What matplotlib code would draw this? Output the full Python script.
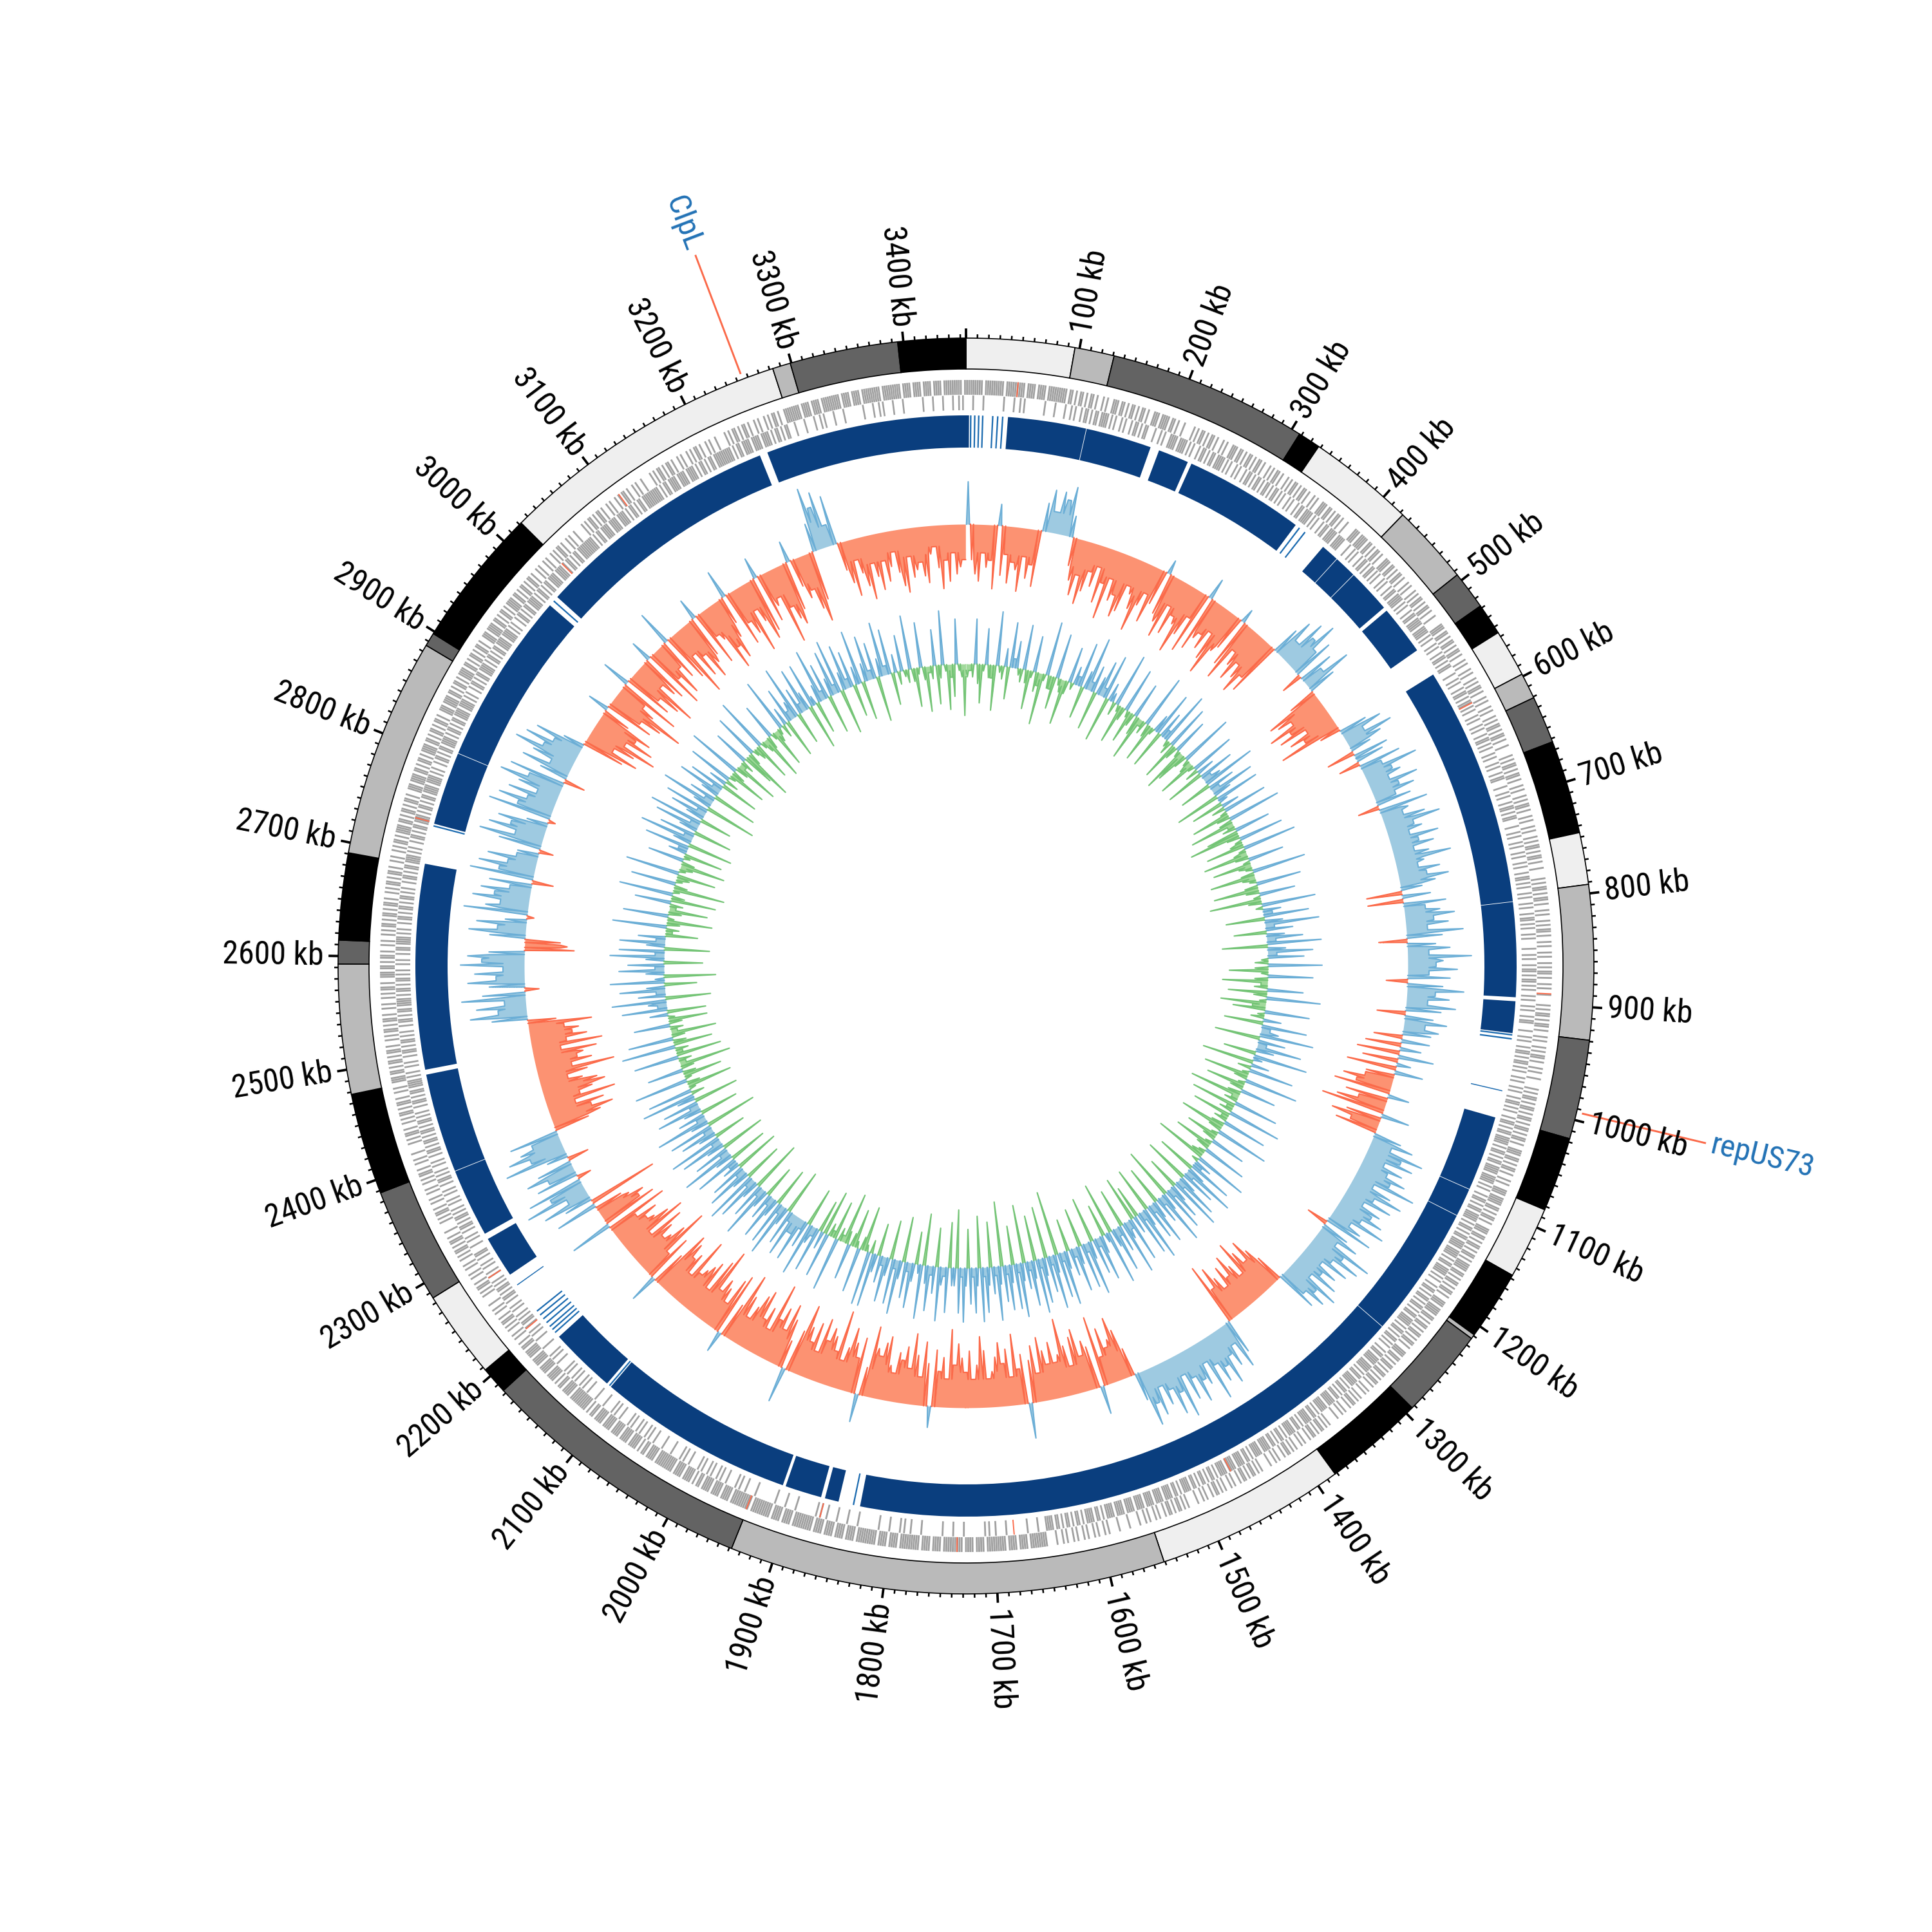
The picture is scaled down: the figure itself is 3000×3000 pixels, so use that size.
import numpy as np
import matplotlib

matplotlib.use("Agg")

from matplotlib import font_manager  # noqa: E402
from matplotlib import pyplot as plt  # noqa: E402

GENOME_KB = 3455

# outer ideogram ring: (start kb, end kb, shade key)
KARYO_BLOCKS = [
    (0, 96, "w"), (96, 131, "l"), (131, 308, "d"), (308, 328, "k"),
    (328, 423, "w"), (423, 494, "l"), (494, 528, "d"), (528, 556, "k"),
    (556, 598, "w"), (598, 621, "l"), (621, 663, "d"), (663, 746, "k"),
    (746, 792, "w"), (792, 929, "l"), (929, 1017, "d"), (1017, 1083, "k"),
    (1083, 1147, "w"), (1147, 1209, "k"), (1209, 1213, "l"), (1213, 1293, "d"),
    (1293, 1382, "k"), (1382, 1551, "w"), (1551, 1938, "l"), (1938, 2183, "d"),
    (2183, 2207, "k"), (2207, 2285, "w"), (2285, 2388, "d"), (2388, 2478, "k"),
    (2478, 2593, "l"), (2593, 2614, "d"), (2614, 2691, "k"), (2691, 2886, "l"),
    (2886, 2898, "d"), (2898, 3022, "k"), (3022, 3283, "w"), (3283, 3299, "l"),
    (3299, 3395, "d"), (3395, 3455, "k"),
]
SHADES = {"w": "#efefef", "l": "#bababa", "d": "#636363", "k": "#000000"}

# alignment ring: solid blocks and thin hits (kb)
ALIGN_BLOCKS = [
    (0, 3), (42, 121), (121.6, 188), (197, 228), (232, 353), (388, 406),
    (406.6, 429), (429.6, 474), (478, 528), (557, 799), (799.6, 895),
    (899, 931), (1017, 1093), (1093.6, 1122), (1122.6, 1256), (1256.6, 1834),
    (1856, 1870), (1874, 1911), (1914, 2113), (2118, 2185), (2264, 2306),
    (2312, 2381), (2381.6, 2482), (2487, 2694), (2735, 2809), (2809.6, 2984),
    (2995, 3244), (3252, 3455),
]
ALIGN_THIN = [
    (4, 5.5), (8, 9.5), (12, 13.5), (16, 17.5), (26, 27.5), (31, 32.5),
    (36, 37.5), (357, 358.5), (364, 365.5), (932, 933.5), (936, 937.5),
    (989, 990), (1840, 1841.5), (2114, 2115.5), (2190, 2191.5), (2194, 2195.5),
    (2198, 2199.5), (2203, 2204.5), (2208, 2209.5), (2213, 2214.5),
    (2218, 2219.5), (2251, 2252), (2732, 2733.5), (2989, 2990.5),
]

# gene density per 20 kb window (0-9 of 10 slots): (start, end, forward, reverse)
GENE_SEGMENTS = [
    (0, 100, "99989", "21312"),
    (100, 300, "6475836475", "5746385746"),
    (300, 560, "5647385746375", "6475836475846"),
    (560, 800, "454636454636", "364545363454"),
    (800, 1000, "4545364536", "5436453645"),
    (1000, 1300, "657485767586576", "576857687567658"),
    (1300, 1550, "4536453645364", "7687768786778"),
    (1550, 1650, "32443", "88767"),
    (1650, 1960, "989898989889899", "213121321231213"),
    (1960, 2200, "878978879788", "343234323432"),
    (2200, 2420, "45354635453", "54645364546"),
    (2420, 2700, "56475645746564", "65746576475657"),
    (2700, 3000, "675867586758675", "576857685768576"),
    (3000, 3280, "45364536453645", "86978697869786"),
    (3280, 3455, "989899889", "232132123"),
]
SLOT_ORDER = [0, 5, 2, 7, 4, 9, 1, 6, 3, 8]
RED_GENES = [
    (49, 1), (600, -1), (890, 1), (1462, -1), (1681, -1), (1736, 1),
    (1870, -1), (1939, 1), (2212, -1), (2273, -1), (2736, -1), (3022, -1),
    (3106, 1),
]

# GC skew per ~5 kb: digits = positive level, letters a.. = negative level
SKEW_SEGMENTS = [
    (0, 95, "6eghdfei3gdhefidgeh"),
    (95, 135, "4636573"),
    (135, 425, "dfheigdfchejdgfihdegjfdhe2fgidhefjgdi3hfegdhjfe2gidfhegifh"),
    (425, 495, "46375846c5374"),
    (495, 555, "dhgeifhdgeic"),
    (555, 950, "463753d54c63845374635c74368453746358436475"
               "3e4e635746385d463954736c5846375d46354"),
    (950, 1005, "d4e3f5e2g4d"),
    (1005, 1077, "dgeh3fdgi4egdf"),
    (1077, 1293, "46385736475936847365748357c463958473647385746"),
    (1293, 1377, "dfhegidfhegdfhei"),
    (1377, 1512, "573648574936584739584637584"),
    (1512, 2284, "dgifehdj4fgeihdgkfeh" "egidhf5gejdhfigedhjf" "dhegifkdgeh3fidgjehf"
                 "gdeihfgjd4hegifdkegh" "fidhegjf5dgiehfkdgei" "hfdgje3ihdfgekidhgfe"
                 "jdgfhie4gdkhfegidjhf" "egdi6hfged6j"),
    (2284, 2381, "473958b6475c3958647"),
    (2381, 2524, "egifhdjegihfdgkehfgidjehfgeid"),
    (2524, 2610, "5847396b584739685"),
    (2610, 2625, "gfe"),
    (2625, 2880, "58473a96485736c9584733b6948573a9584736958c4736958473"),
    (2880, 3260, "fhdgjeifhd3gehkfdi4gehjdfg3iehdf5gjdheigf3hdejgifd4hegjdfih3gedkfhig3dfehjg"),
    (3260, 3292, "496837"),
    (3292, 3455, "dfhcegidfhdgecfhidgfeghdcfiehdgfe"),
]

# GC content deviation per ~5 kb, same coding
GC_SEGMENTS = [
    (0, 70, "bab5cfa4bbg6ab"),
    (70, 95, "2e513"),
    (95, 200, "ab5bfa4cbha6bbe5abgb4a"),
    (200, 280, "215e2613f2415g21"),
    (280, 370, "b6afb5aeb4cgab6bfa"),
    (370, 400, "25f316"),
    (400, 480, "ab5fb4ageb6abfa5b"),
    (480, 560, "2f4126e3152g51e2"),
    (560, 700, "b5afb6bgab4ehb5abf6abgb4afba6bg"),
    (700, 760, "ba5bgb4ahb6a"),
    (760, 850, "215f2613e2416g2514"),
    (850, 960, "ab6bfa5bgab4fb6agbe5ab"),
    (960, 1050, "2f5126g3152e61h2"),
    (1050, 1150, "b5agb6afb4bhab5gab6f"),
    (1150, 1250, "ab5bgb6aeb4afb5abh6a"),
    (1250, 1400, "215f2614g2516e2415h2613f2514g2615e"),
    (1400, 1550, "2g5126f3152h61e2514g2615f2513e26"),
    (1550, 1750, "15j2614h2516g2513i2615f2514j2613g2516h2514f2615i2"),
    (1750, 1900, "2g5126f3152h61e2514g2615f2513e26"),
    (1900, 2050, "b6agb5afb4bhab6fab5g2e5126f3152"),
    (2050, 2200, "2514g2615f2513e2614h2516f2514g2"),
    (2200, 2350, "15f2614g2516e2415h2613f2514g26"),
    (2350, 2500, "b5agb6afb4bhab5gab6fb5bgab4bfa"),
    (2500, 2650, "2f5126g3152e61h2514f2615g2513e"),
    (2650, 2800, "ab6bga5bfab4gb6ahb5abf6abgb4af"),
    (2800, 2950, "215g2614f2516e2415h2613g2514f2"),
    (2950, 3100, "b5afb6bgab4ehb5abf6abgb4afba6b"),
    (3100, 3250, "2f4126e3152g51e2614f2516g2514e"),
    (3250, 3340, "26f2514g2615e2b4"),
    (3340, 3455, "ab6bfa5bgab4fb6agbe5abh"),
]

TICK_LABEL_KB = list(range(100, 3500, 100))
ANNOTATIONS = [("ClpL", 3255), ("repUS73", 993)]


def kb2rad(kb):
    return np.asarray(kb, dtype=float) / GENOME_KB * 2 * np.pi


def decode(text):
    out = []
    for ch in text:
        if ch.isdigit():
            out.append(int(ch))
        elif ch.isalpha():
            out.append(-(ord(ch) - ord("a") + 1))
    return out


def expand_segments(segments):
    pos, val = [], []
    for start, end, text in segments:
        levels = decode(text)
        step = (end - start) / len(levels)
        for i, lv in enumerate(levels):
            pos.append(start + (i + 0.5) * step)
            val.append(lv)
    return np.array(pos), np.array(val, dtype=float)


def needle_outline(pos, vals, half_kb):
    # each value drawn as a thin needle standing on the local same-sign floor
    n = len(vals)
    floor = np.zeros(n)
    for i in range(n):
        near = vals[max(i - 1, 0):i + 2]
        if np.all(near > 0):
            floor[i] = near.min()
        elif np.all(near < 0):
            floor[i] = near.max()
    xs = np.column_stack([pos - half_kb, pos, pos + half_kb]).ravel()
    ys = np.column_stack([floor, vals, floor]).ravel()
    return xs, ys


def spike_line(values):
    nz = values != 0
    keep = nz.copy()
    keep[1:] |= nz[:-1]
    keep[:-1] |= nz[1:]
    return np.where(keep, values, np.nan)


def signed_track(ax, segments, r0, up_unit, down_unit, half_kb, pos_colors, neg_colors):
    pos, levels = expand_segments(segments)
    scaled = np.where(levels > 0, levels * up_unit, levels * down_unit)
    xs, ys = needle_outline(pos, scaled, half_kb)
    theta = kb2rad(xs)
    up = np.where(ys > 0, ys, 0)
    down = np.where(ys < 0, ys, 0)
    ax.fill_between(theta, r0, r0 + up, color=pos_colors[0], lw=0)
    ax.fill_between(theta, r0, r0 + down, color=neg_colors[0], lw=0)
    ax.plot(theta, r0 + spike_line(up), color=pos_colors[1], lw=0.5)
    ax.plot(theta, r0 + spike_line(down), color=neg_colors[1], lw=0.5)


def label_props(kb):
    ang = kb / GENOME_KB * 360
    if ang < 180:
        return 90 - ang, "left"
    return 270 - ang, "right"


def _weight_number(weight):
    if isinstance(weight, (int, float)):
        return float(weight)
    return float(font_manager.weight_dict.get(str(weight), 400))


def pick_label_font(size):
    # a narrow sans face of regular weight, as in the reference labels
    entries = font_manager.fontManager.ttflist
    best, best_score = None, None
    for f in entries:
        stretch = str(f.stretch)
        if f.name == "Liberation Sans Narrow":
            stretch_pen = 0.0
        elif f.name in ("Noto Sans", "Open Sans", "Roboto", "Liberation Sans", "Roboto Condensed",
                        "Open Sans Condensed", "Noto Sans Condensed"):
            if "condensed" in f.name.lower() or stretch == "condensed":
                stretch_pen = 0.0
            elif stretch == "semi-condensed":
                stretch_pen = 0.5
            else:
                continue
        else:
            continue
        if "italic" in str(f.style) or "oblique" in str(f.style):
            continue
        score = stretch_pen + abs(_weight_number(f.weight) - 420) / 100
        if best_score is None or score < best_score:
            best, best_score = f, score
    if best is not None:
        return font_manager.FontProperties(fname=best.fname, size=size)
    return font_manager.FontProperties(family="Liberation Sans", size=size - 1.0)


tick_font = pick_label_font(12.0)
note_font = pick_label_font(11.8)

fig = plt.figure(figsize=(10, 10), dpi=300)
ax = fig.add_axes([0, 0, 1, 1], projection="polar")
ax.set_theta_zero_location("N")
ax.set_theta_direction(-1)
ax.set_ylim(0, 1500)
ax.set_axis_off()

# ideogram
for start, end, shade in KARYO_BLOCKS:
    ax.bar(kb2rad((start + end) / 2), 48, width=kb2rad(end - start), bottom=927,
           color=SHADES[shade], edgecolor="black", linewidth=0.4)

# ticks and labels
ax.vlines(kb2rad(np.arange(0, GENOME_KB, 10)), 975, 981, color="black", lw=0.6)
ax.vlines(kb2rad(np.arange(0, GENOME_KB, 100)), 975, 990, color="black", lw=0.9)
for kb in TICK_LABEL_KB:
    rot, ha = label_props(kb)
    ax.text(kb2rad(kb), 998, f"{kb} kb", rotation=rot, rotation_mode="anchor",
            ha=ha, va="center", color="black", fontproperties=tick_font)

# genes
gene_theta, gene_width, gene_bottom = [], [], []
for start, end, fwd, rev in GENE_SEGMENTS:
    win = (end - start) / len(fwd)
    slot = win / 10
    for i, (df, dr) in enumerate(zip(fwd, rev)):
        w0 = start + i * win
        for s in SLOT_ORDER[:int(df)]:
            gene_theta.append(w0 + (s + 0.5) * slot)
            gene_bottom.append(887)
        for s in SLOT_ORDER[::-1][:int(dr)]:
            gene_theta.append(w0 + (s + 0.5) * slot)
            gene_bottom.append(863)
        gene_width.extend([slot * 0.85] * (int(df) + int(dr)))
ax.bar(kb2rad(gene_theta), 23, width=kb2rad(gene_width), bottom=gene_bottom,
       color="#a0a0a0", linewidth=0)
red_kb = [kb for kb, _ in RED_GENES]
red_bottom = [887 if strand > 0 else 863 for _, strand in RED_GENES]
ax.bar(kb2rad(red_kb), 23, width=kb2rad(1.2), bottom=red_bottom, color="#fb6a4a", linewidth=0)

# alignment ring
for start, end in ALIGN_BLOCKS:
    ax.bar(kb2rad((start + end) / 2), 50, width=kb2rad(end - start), bottom=805,
           color="#0a3e7e", linewidth=0)
for start, end in ALIGN_THIN:
    ax.bar(kb2rad((start + end) / 2), 50, width=kb2rad(end - start), bottom=805,
           color="#1c6bb0", linewidth=0)

# skew and GC tracks
signed_track(ax, SKEW_SEGMENTS, 686, 11, 11, 1.9,
             ("#9ecae1", "#6baed6"), ("#fc9272", "#fb6a4a"))
signed_track(ax, GC_SEGMENTS, 469, 14, 10, 2.2,
             ("#9ecae1", "#6baed6"), ("#a1d99b", "#74c476"))

# annotations
for name, kb in ANNOTATIONS:
    th = kb2rad(kb)
    ax.plot([th, th], [985, 1180], color="#fb6a4a", lw=0.7)
    rot, ha = label_props(kb)
    ax.text(th, 1190, name, rotation=rot, rotation_mode="anchor", ha=ha, va="center",
            color="#2171b5", fontproperties=note_font)

fig.savefig("out.png", dpi=300)
plt.close(fig)
